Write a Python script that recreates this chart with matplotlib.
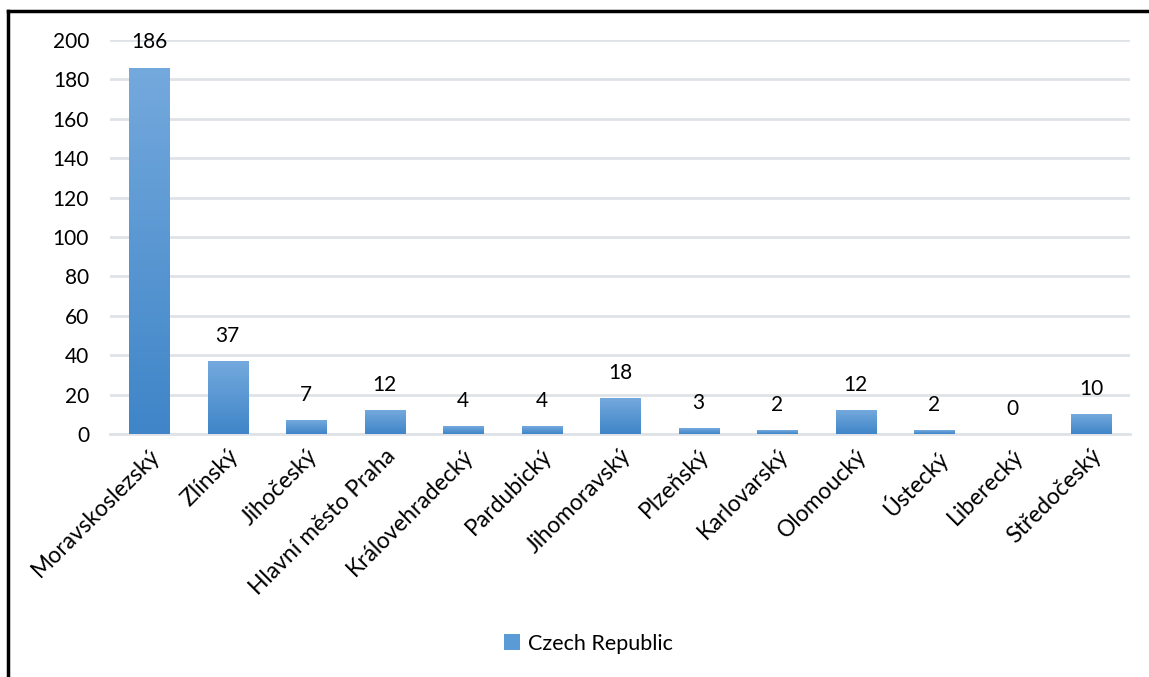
import matplotlib
matplotlib.use("Agg")
import matplotlib.pyplot as plt
import numpy as np
from matplotlib.patches import Patch
from matplotlib.colors import LinearSegmentedColormap

regions = ["Moravskoslezský", "Zlínský", "Jihočeský", "Hlavní město Praha",
           "Královehradecký", "Pardubický", "Jihomoravský", "Plzeňský",
           "Karlovarský", "Olomoucký", "Ústecký", "Liberecký", "Středočeský"]
values = [186, 37, 7, 12, 4, 4, 18, 3, 2, 12, 2, 0, 10]
series_name = "Czech Republic"
yticks = [0, 20, 40, 60, 80, 100, 120, 140, 160, 180, 200]

plt.rcParams['font.family'] = ['Lato', 'DejaVu Sans']

fig = plt.figure(figsize=(11.49, 6.77), dpi=100)
ax = fig.add_axes([0.0957, 0.359, 0.888, 0.582])

cmap = LinearSegmentedColormap.from_list("g", ["#3f85c8", "#74a9dd"])
grad = np.linspace(0, 1, 256).reshape(-1, 1)
x = np.arange(len(regions))
w = 0.51
bars = ax.bar(x, values, width=w, color="#5b9bd5", zorder=2)
for b in bars:
    h = b.get_height()
    if h <= 0:
        continue
    x0 = b.get_x()
    im = ax.imshow(grad, extent=[x0, x0 + w, 0, h], origin="lower", aspect="auto",
                   cmap=cmap, zorder=3)
    im.set_clip_path(b)

for xi, v in zip(x, values):
    ax.annotate(str(v), (xi, v), xytext=(0, 11), textcoords="offset points",
                ha="center", va="bottom", fontsize=15, color="#000000")

ax.set_xlim(-0.5, len(regions) - 0.5)
ax.set_ylim(0, 200)
ax.set_yticks(yticks)
ax.set_yticklabels([str(t) for t in yticks], fontsize=15)
ax.set_xticks(x)
ax.set_xticklabels(regions, rotation=45, ha="right", rotation_mode="anchor", fontsize=16.5)
ax.tick_params(axis='y', length=0, pad=15)
ax.tick_params(axis='x', length=0, pad=8)
ax.grid(axis="y", color="#dfe3e8", linewidth=2, zorder=0)
ax.set_axisbelow(True)
for s in ["top", "right", "left"]:
    ax.spines[s].set_visible(False)
ax.spines["bottom"].set_color("#dfe3e8")
ax.spines["bottom"].set_linewidth(2)

fig.legend(handles=[Patch(facecolor="#5b9bd5", label=series_name)],
           loc="center", bbox_to_anchor=(0.512, 0.049), frameon=False,
           fontsize=15.5, handlelength=0.75, handleheight=0.75, handletextpad=0.35)

# frame lines (top and left)
fig.add_artist(plt.Line2D([0.007, 1.0], [0.984, 0.984], color="black", linewidth=2.5,
                          transform=fig.transFigure))
fig.add_artist(plt.Line2D([0.007, 0.007], [0.0, 0.984], color="black", linewidth=2.5,
                          transform=fig.transFigure))

fig.savefig("out.png", dpi=100)
